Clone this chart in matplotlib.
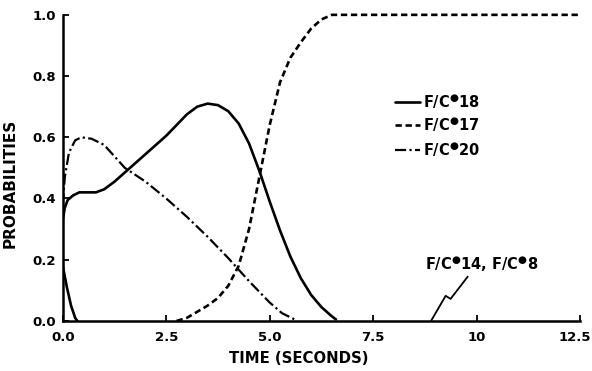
import matplotlib
matplotlib.use("Agg")
import matplotlib.pyplot as plt
from matplotlib.transforms import ScaledTranslation

# ---- data ----
t18 = [0, 0.05, 0.12, 0.25, 0.4, 0.6, 0.8, 1.0, 1.25, 1.5, 1.75, 2.0, 2.25, 2.5, 2.75,
       3.0, 3.25, 3.5, 3.75, 4.0, 4.25, 4.5, 4.75, 5.0, 5.25, 5.5, 5.75, 6.0, 6.25, 6.5, 6.6]
p18 = [0.33, 0.37, 0.395, 0.41, 0.42, 0.42, 0.42, 0.43, 0.455, 0.485, 0.515, 0.545, 0.575,
       0.605, 0.64, 0.675, 0.70, 0.71, 0.705, 0.685, 0.645, 0.58, 0.49, 0.39, 0.295, 0.21,
       0.14, 0.085, 0.045, 0.015, 0.005]

t17 = [2.75, 3.0, 3.25, 3.5, 3.75, 4.0, 4.25, 4.5, 4.75, 5.0, 5.25, 5.5, 5.75, 6.0, 6.25,
       6.5, 7.0, 8.0, 10.0, 12.5]
p17 = [0.0, 0.01, 0.03, 0.05, 0.075, 0.115, 0.18, 0.30, 0.47, 0.64, 0.78, 0.86, 0.91, 0.955,
       0.985, 1.0, 1.0, 1.0, 1.0, 1.0]

t20 = [0.0, 0.05, 0.15, 0.3, 0.45, 0.7, 1.0, 1.5, 2.0, 2.5, 3.0, 3.5, 4.0, 4.5, 5.0, 5.3, 5.6]
p20 = [0.38, 0.47, 0.55, 0.59, 0.60, 0.595, 0.575, 0.50, 0.455, 0.40, 0.34, 0.275, 0.205,
       0.13, 0.06, 0.025, 0.005]

t14 = [0.0, 0.1, 0.2, 0.3, 0.35]
p14 = [0.18, 0.11, 0.05, 0.01, 0.0]

B = "$^{\u25CF}$"
labels = ["F/C" + B + "18", "F/C" + B + "17", "F/C" + B + "20"]
annot = "F/C" + B + "14, F/C" + B + "8"
leader_t = [8.91, 9.25, 9.37, 9.78]
leader_p = [0.003, 0.082, 0.072, 0.144]

xticks = [0.0, 2.5, 5.0, 7.5, 10, 12.5]
xticklabels = ["0.0", "2.5", "5.0", "7.5", "10", "12.5"]
yticks = [0.0, 0.2, 0.4, 0.6, 0.8, 1.0]
yticklabels = ["0.0", "0.2", "0.4", "0.6", "0.8", "1.0"]

# ---- plot ----
plt.rcParams['font.family'] = ['DejaVu Sans']
fig = plt.figure(figsize=(5.92, 3.71), dpi=100)
ax = fig.add_axes([0.106, 0.135, 0.874, 0.825])

lw = 1.9
s18 = dict(color='black', lw=lw, solid_capstyle='round')
s17 = dict(color='black', lw=lw, linestyle=(0, (2.4, 1.4)))
s20 = dict(color='black', lw=1.6, linestyle=(0, (5, 1.5, 1, 1.5)))
ax.plot(t18, p18, **s18)
ax.plot(t17, p17, clip_on=False, **s17)
ax.plot(t20, p20, **s20)
ax.plot(t14, p14, color='black', lw=lw)
ax.plot(leader_t, leader_p, color='black', lw=1.3)
ax.text(8.75, 0.185, annot, fontsize=10.5, fontweight='bold', ha='left', va='center')

# legend (manual placement to match the original)
rows_y = [0.716, 0.641, 0.559]
for lab, sty, yy in zip(labels, [s18, s17, s20], rows_y):
    ax.plot([0.642, 0.690], [yy, yy], transform=ax.transAxes, **sty)
    ax.text(0.696, yy, lab, transform=ax.transAxes, fontsize=10.5, fontweight='bold',
            ha='left', va='center')

ax.set_xlim(0, 12.5)
ax.set_ylim(0, 1.0)
ax.set_xticks(xticks)
ax.set_xticklabels(xticklabels, fontsize=9.5, fontweight='bold')
ax.set_yticks(yticks)
ax.set_yticklabels(yticklabels, fontsize=9.5, fontweight='bold')
ax.tick_params(direction='in', length=4, width=1.3)
ax.tick_params(axis='x', pad=7)
ax.tick_params(axis='y', pad=5)
last = ax.get_xticklabels()[-1]
last.set_horizontalalignment('right')
last.set_transform(last.get_transform() + ScaledTranslation(11 / 100, 0, fig.dpi_scale_trans))
for s in ['top', 'right']:
    ax.spines[s].set_visible(False)
for s in ['left', 'bottom']:
    ax.spines[s].set_linewidth(1.8)

ax.set_xlabel("TIME (SECONDS)", fontsize=10.7, fontweight='bold')
ax.xaxis.set_label_coords(0.456, -0.098)
ax.set_ylabel("PROBABILITIES", fontsize=11, fontweight='bold')
ax.yaxis.set_label_coords(-0.087, 0.45)

fig.savefig("out.png", dpi=100)
